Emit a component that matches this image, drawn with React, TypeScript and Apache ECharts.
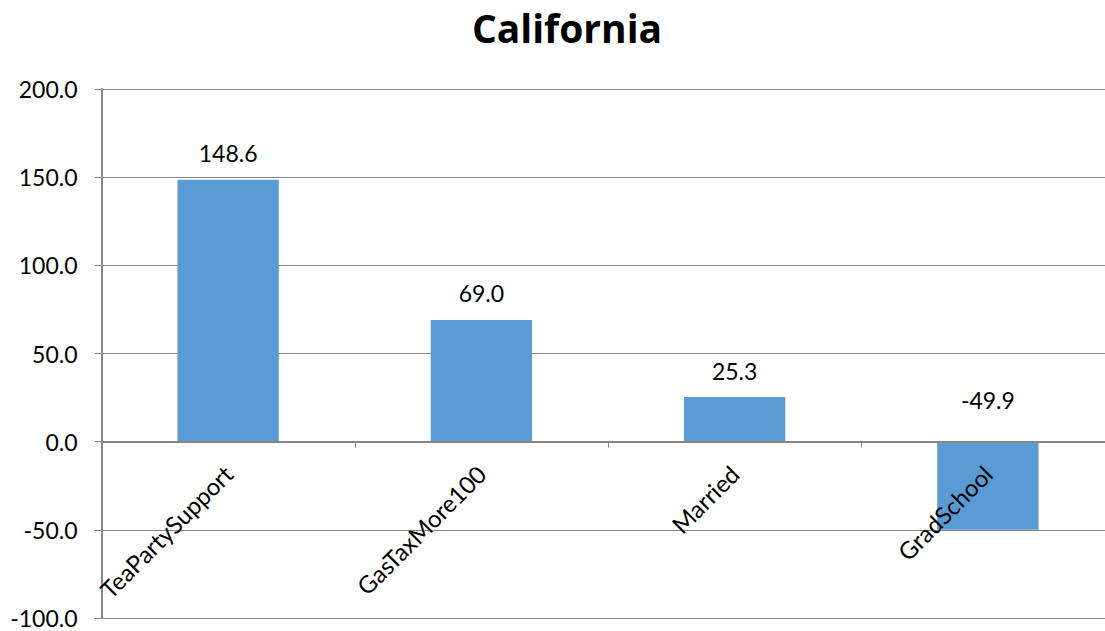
import React, { useEffect, useRef } from "react";
import * as echarts from "echarts";

const categories = ["TeaPartySupport", "GasTaxMore100", "Married", "GradSchool"];
const values = [148.6, 69.0, 25.3, -49.9];
const yTicks = { min: -100, max: 200, interval: 50 };
const title = "California";

const FONT = "Lato, 'Open Sans', sans-serif";

export default function App() {
  const ref = useRef<HTMLDivElement>(null);
  useEffect(() => {
    if (!ref.current) return;
    const chart = echarts.init(ref.current, null, { renderer: "svg" });
    const gridTop = 89;
    const gridHeight = 529;
    const zeroOffset = -(gridHeight * (0 - yTicks.min)) / (yTicks.max - yTicks.min);
    chart.setOption({
      animation: false,
      backgroundColor: "#ffffff",
      title: {
        text: title,
        left: 562,
        textAlign: "center",
        top: 3,
        textStyle: { fontFamily: "'Open Sans', sans-serif", fontSize: 39, fontWeight: "bold", color: "#000" },
      },
      grid: {
        left: 101.5,
        top: gridTop,
        width: 1013,
        height: gridHeight,
        containLabel: false,
        outerBoundsMode: "none",
      },
      xAxis: {
        type: "category",
        data: categories,
        boundaryGap: true,
        position: "bottom",
        offset: zeroOffset,
        z: 5,
        axisLine: { onZero: false, lineStyle: { color: "#868686", width: 2 } },
        axisTick: { show: true, length: 6, lineStyle: { color: "#868686" } },
        axisLabel: {
          rotate: 45,
          margin: 28,
          fontFamily: FONT,
          fontSize: 24,
          color: "#000",
        },
      },
      yAxis: {
        type: "value",
        min: yTicks.min,
        max: yTicks.max,
        interval: yTicks.interval,
        axisLine: { show: true, lineStyle: { color: "#868686", width: 2 } },
        axisTick: { show: true, length: 7, lineStyle: { color: "#868686" } },
        splitLine: { show: true, lineStyle: { color: "#868686", width: 1 } },
        axisLabel: {
          margin: 24,
          fontFamily: FONT,
          fontSize: 23,
          color: "#000",
          formatter: (v: number) => v.toFixed(1),
        },
      },
      series: [
        {
          type: "bar",
          z: 2,
          data: values.map((v) =>
            v < 0
              ? { value: v, label: { position: "top", distance: 30 } }
              : { value: v }
          ),
          barWidth: "40%",
          itemStyle: { color: "#5B9BD5" },
          label: {
            show: true,
            position: "top",
            distance: 15,
            fontFamily: FONT,
            fontSize: 23,
            color: "#000",
            formatter: (p: any) => Number(p.value).toFixed(1),
          },
        },
      ],
    });
    return () => chart.dispose();
  }, []);
  return (
    <div
      ref={ref}
      style={{ position: "fixed", left: 0, top: 0, width: 1105, height: 631 }}
    />
  );
}
